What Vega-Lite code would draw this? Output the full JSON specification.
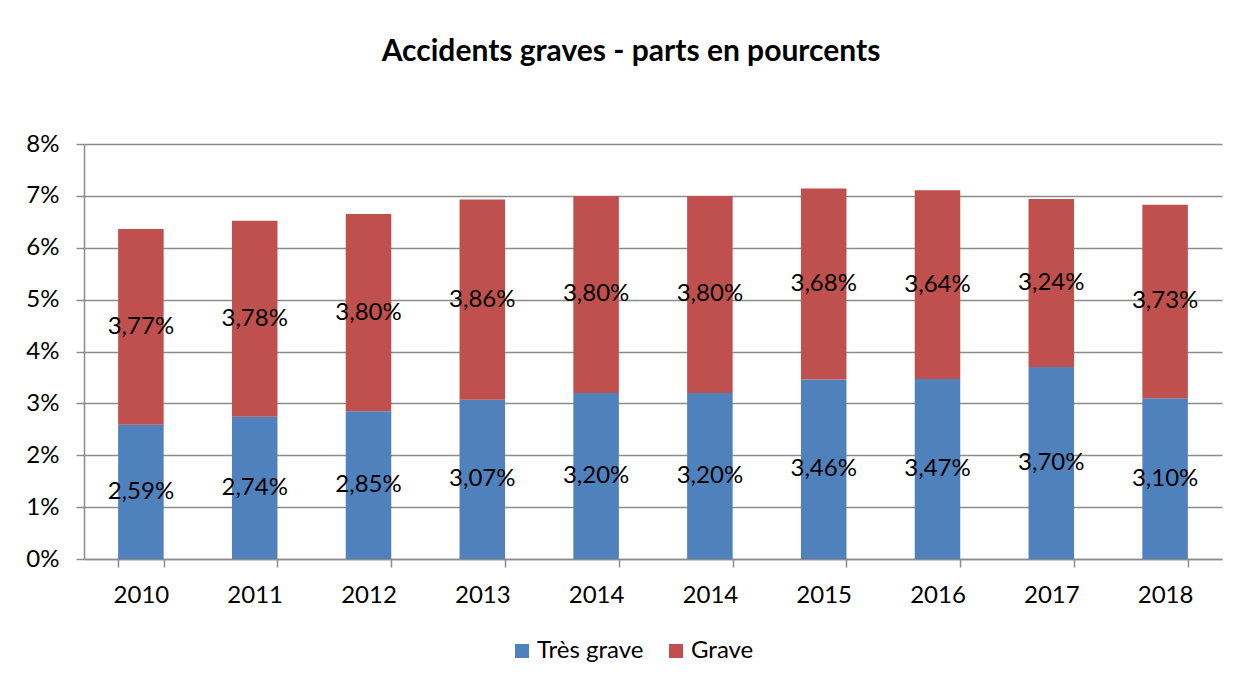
{
  "$schema": "https://vega.github.io/schema/vega-lite/v6.json",
  "width": 1138,
  "height": 415,
  "autosize": {"type": "none"},
  "padding": {"left": 84, "top": 144, "right": 15, "bottom": 125},
  "background": "white",
  "config": {
    "locale": {"number": {"decimal": ",", "thousands": " ", "grouping": [3], "currency": ["", " €"]}},
    "font": "Lato",
    "view": {"stroke": null},
    "axis": {"labelFont": "Lato", "labelFontSize": 24, "labelColor": "#000000", "titleFont": "Lato"},
    "legend": {"labelFont": "Lato", "labelFontSize": 24, "labelColor": "#000000"}
  },
  "title": {
    "text": "Accidents graves - parts en pourcents",
    "font": "Lato",
    "fontSize": 30,
    "fontWeight": "bold",
    "color": "#000000",
    "anchor": "middle",
    "dx": -22,
    "offset": 65
  },
  "data": {
    "values": [
      {"slot": "2010", "serie": "Très grave", "value": 0.0259},
      {"slot": "2010", "serie": "Grave", "value": 0.0377},
      {"slot": "2011", "serie": "Très grave", "value": 0.0274},
      {"slot": "2011", "serie": "Grave", "value": 0.0378},
      {"slot": "2012", "serie": "Très grave", "value": 0.0285},
      {"slot": "2012", "serie": "Grave", "value": 0.0380},
      {"slot": "2013", "serie": "Très grave", "value": 0.0307},
      {"slot": "2013", "serie": "Grave", "value": 0.0386},
      {"slot": "2014-a", "serie": "Très grave", "value": 0.0320},
      {"slot": "2014-a", "serie": "Grave", "value": 0.0380},
      {"slot": "2014-b", "serie": "Très grave", "value": 0.0320},
      {"slot": "2014-b", "serie": "Grave", "value": 0.0380},
      {"slot": "2015", "serie": "Très grave", "value": 0.0346},
      {"slot": "2015", "serie": "Grave", "value": 0.0368},
      {"slot": "2016", "serie": "Très grave", "value": 0.0347},
      {"slot": "2016", "serie": "Grave", "value": 0.0364},
      {"slot": "2017", "serie": "Très grave", "value": 0.0370},
      {"slot": "2017", "serie": "Grave", "value": 0.0324},
      {"slot": "2018", "serie": "Très grave", "value": 0.0310},
      {"slot": "2018", "serie": "Grave", "value": 0.0373}
    ]
  },
  "transform": [
    {"stack": "value", "groupby": ["slot"], "sort": [{"field": "serie", "order": "descending"}], "as": ["v0", "v1"]},
    {"calculate": "(datum.v0 + datum.v1) / 2", "as": "mid"}
  ],
  "encoding": {
    "x": {
      "field": "slot",
      "type": "nominal",
      "sort": null,
      "scale": {"paddingInner": 0.6, "paddingOuter": 0.3},
      "axis": {
        "title": null,
        "labelAngle": 0,
        "labelExpr": "isString(datum.value) ? split(datum.value, '-')[0] : ''",
        "domainColor": "#8c8c8c",
        "domainWidth": 1.5,
        "tickColor": "#8c8c8c",
        "tickWidth": 1.5,
        "tickSize": 8,
        "tickBand": "extent",
        "labelPadding": 16,
        "grid": false
      }
    }
  },
  "layer": [
    {
      "mark": {"type": "bar"},
      "encoding": {
        "y": {
          "field": "v0",
          "type": "quantitative",
          "scale": {"domain": [0, 0.08], "nice": false},
          "axis": {
            "title": null,
            "values": [0, 0.01, 0.02, 0.03, 0.04, 0.05, 0.06, 0.07, 0.08],
            "format": ".0%",
            "grid": true,
            "gridColor": "#8c8c8c",
            "gridWidth": 1.5,
            "domainColor": "#8c8c8c",
            "domainWidth": 1.5,
            "tickColor": "#8c8c8c",
            "tickWidth": 1.5,
            "tickSize": 8,
            "labelPadding": 17
          }
        },
        "y2": {"field": "v1"},
        "color": {
          "field": "serie",
          "type": "nominal",
          "scale": {"domain": ["Très grave", "Grave"], "range": ["#4F81BD", "#C0504D"]},
          "legend": {
            "title": null,
            "orient": "none",
            "direction": "horizontal",
            "legendX": 426,
            "legendY": 495,
            "symbolType": "square",
            "symbolSize": 196,
            "symbolStrokeWidth": 0,
            "columnPadding": 20,
            "labelOffset": 3
          }
        }
      }
    },
    {
      "mark": {"type": "text", "fontSize": 24, "font": "Lato", "color": "#000000", "baseline": "middle", "align": "center"},
      "encoding": {
        "y": {"field": "mid", "type": "quantitative"},
        "text": {"field": "value", "type": "quantitative", "format": ".2%"}
      }
    }
  ]
}
